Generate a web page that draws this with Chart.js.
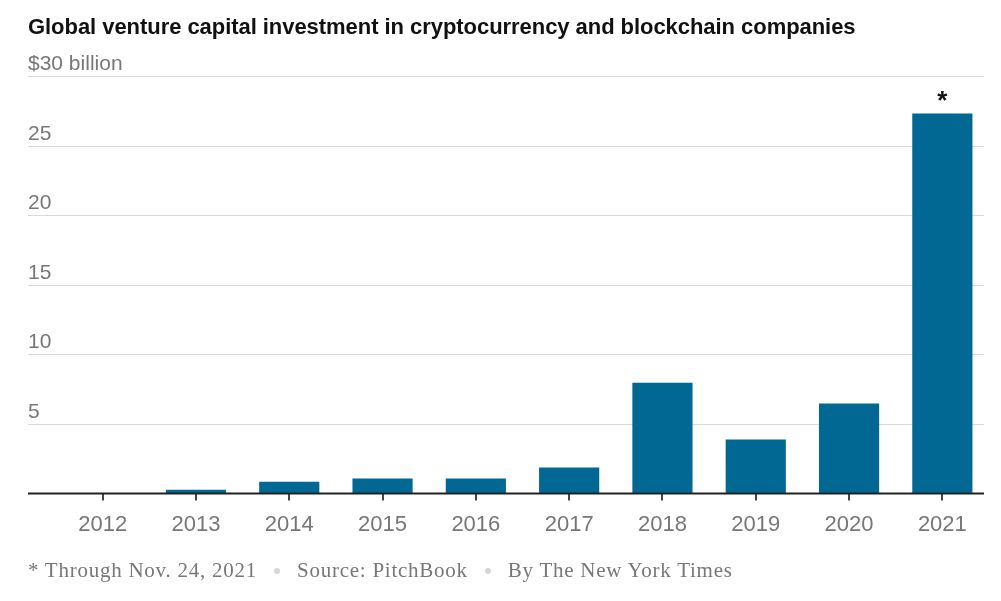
<!DOCTYPE html>
<html>
<head>
<meta charset="utf-8">
<script src="https://cdn.jsdelivr.net/npm/chart.js@4.4.1/dist/chart.umd.min.js"></script>
<style>
    html, body { margin: 0; padding: 0; background: #fff; }
    #wrap { position: relative; width: 1001px; height: 601px; overflow: hidden; }
    #chart { position: absolute; left: 0; top: 0; }
    .title {
        position: absolute; left: 28px; top: 14px; margin: 0; line-height: 1.15;
        font-family: 'Liberation Sans', Arial, sans-serif; font-weight: bold;
        font-size: 22px; letter-spacing: -0.05px; color: #111; white-space: nowrap;
    }
    .footer {
        position: absolute; left: 28px; top: 558px;
        font-family: 'Liberation Serif', 'DejaVu Serif', serif;
        font-size: 21px; letter-spacing: 0.75px; color: #777; white-space: nowrap;
    }
    .dot {
        display: inline-block; width: 6px; height: 6px; border-radius: 3px;
        background: #d6d6d6; vertical-align: middle; margin: 0 17px 3px 17px;
    }
</style>
</head>
<body>
<div id="wrap">
    <canvas id="chart" width="1001" height="601"></canvas>
    <h1 class="title">Global venture capital investment in cryptocurrency and blockchain companies</h1>
    <div class="footer">* Through Nov. 24, 2021<span class="dot"></span>Source: PitchBook<span class="dot"></span>By The New York Times</div>
</div>
<script>
// Data (billions of US dollars)
const years = ['2012', '2013', '2014', '2015', '2016', '2017', '2018', '2019', '2020', '2021'];
const investment = [0, 0.27, 0.86, 1.08, 1.08, 1.87, 7.97, 3.88, 6.47, 27.3];
const yTicks = [5, 10, 15, 20, 25, 30];
const yTickLabels = ['5', '10', '15', '20', '25', '$30 billion'];
const noteYear = '2021';

const barColor = '#006893';
const gridLeft = 28;
const gridRight = 984;

// gridlines + labels behind the bars, baseline and asterisk on top
const nytGrid = {
    id: 'nytGrid',
    beforeDatasetsDraw(chart) {
        const ctx = chart.ctx;
        const y = chart.scales.y;
        ctx.save();
        ctx.strokeStyle = '#d9d9d9';
        ctx.lineWidth = 1;
        ctx.fillStyle = '#777';
        ctx.font = "21px 'Liberation Sans', Arial, sans-serif";
        ctx.textBaseline = 'alphabetic';
        ctx.textAlign = 'left';
        yTicks.forEach((v, i) => {
            const py = Math.round(y.getPixelForValue(v)) + 0.5;
            ctx.beginPath();
            ctx.moveTo(gridLeft, py);
            ctx.lineTo(gridRight, py);
            ctx.stroke();
            ctx.fillText(yTickLabels[i], gridLeft, py - 7);
        });
        ctx.restore();
    },
    afterDatasetsDraw(chart) {
        const ctx = chart.ctx;
        const y = chart.scales.y;
        const py = y.getPixelForValue(0);
        ctx.save();
        ctx.strokeStyle = '#222';
        ctx.lineWidth = 2;
        ctx.beginPath();
        ctx.moveTo(gridLeft, py);
        ctx.lineTo(gridRight, py);
        ctx.stroke();

        const idx = years.indexOf(noteYear);
        const bar = chart.getDatasetMeta(0).data[idx];
        ctx.fillStyle = '#111';
        ctx.font = "bold 26px 'Liberation Sans', Arial, sans-serif";
        ctx.textAlign = 'center';
        ctx.textBaseline = 'alphabetic';
        ctx.fillText('*', bar.x, bar.y - 5);
        ctx.restore();
    }
};

new Chart(document.getElementById('chart'), {
    type: 'bar',
    data: {
        labels: years,
        datasets: [{
            data: investment,
            backgroundColor: barColor,
            borderWidth: 0,
            categoryPercentage: 1,
            barPercentage: 0.645
        }]
    },
    options: {
        responsive: false,
        animation: false,
        events: [],
        layout: {
            padding: { left: 56, right: 12, top: 76, bottom: 52 }
        },
        scales: {
            x: {
                border: { display: false },
                grid: {
                    display: true,
                    offset: false,
                    drawOnChartArea: false,
                    drawTicks: true,
                    tickLength: 7,
                    color: '#444',
                    lineWidth: 2
                },
                ticks: {
                    color: '#777',
                    padding: 11,
                    font: { family: "'Liberation Sans', Arial, sans-serif", size: 22 }
                }
            },
            y: {
                display: false,
                min: 0,
                max: 30
            }
        },
        plugins: {
            legend: { display: false },
            tooltip: { enabled: false }
        }
    },
    plugins: [nytGrid]
});
</script>
</body>
</html>
